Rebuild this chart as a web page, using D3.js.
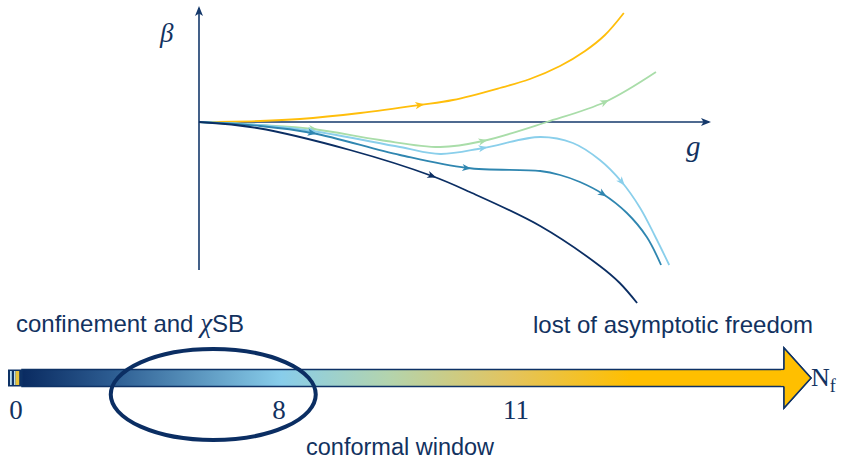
<!DOCTYPE html>
<html><head><meta charset="utf-8">
<script src="https://cdn.jsdelivr.net/npm/d3@7"></script>
<style>
html,body{margin:0;padding:0;background:#fff;}
svg{display:block;}
</style></head>
<body>
<svg id="chart" width="843" height="459"></svg>
<script>
// ---------- data ----------
const seriesNames = ["orange", "green", "lightblue", "steel", "navy"];
const seriesColors = ["#FFBE0B", "#A9DDA9", "#8ACFEB", "#2F86B0", "#0B2E63"];
const orangeG = [0, 1.2, 1.98, 3.16, 4.33, 4.98, 5.90, 6.49, 7.08, 7.57, 7.96, 8.33];
const orangeB = [0, 0.02, 0.06, 0.18, 0.34, 0.44, 0.68, 0.86, 1.12, 1.42, 1.74, 2.18];
const greenG = [0, 1.2, 2.24, 3.55, 4.73, 5.57, 6.82, 7.96, 8.96];
const greenB = [0, -0.06, -0.14, -0.36, -0.50, -0.38, 0, 0.40, 1.00];
const lightG = [0, 1.2, 2.22, 3.94, 4.73, 5.57, 6.69, 7.33, 7.86, 8.29, 8.65, 8.94, 9.22];
const lightB = [0, -0.06, -0.18, -0.50, -0.64, -0.52, -0.30, -0.42, -0.76, -1.20, -1.72, -2.28, -2.86];
const steelG = [0, 1.2, 2.22, 3.94, 5.25, 6.69, 7.08, 7.47, 7.92, 8.39, 8.78, 9.06];
const steelB = [0, -0.08, -0.22, -0.66, -0.92, -0.98, -1.06, -1.20, -1.44, -1.82, -2.30, -2.86];
const navyG = [0, 1.14, 2.96, 4.57, 5.31, 6.69, 7.86, 8.25, 8.59];
const navyB = [0, -0.12, -0.56, -1.08, -1.40, -2.08, -2.88, -3.22, -3.62];
// arrow positions (g values) along each flow line
const orangeArrows = [4.33];
const greenArrows = [2.24, 5.57, 7.96];
const lightArrows = [2.22, 5.57, 8.29];
const steelArrows = [2.22, 5.25, 7.92];
const navyArrows = [4.57];
// N_f axis
const nfTicks = [0, 8, 11];
const nfTickLabels = ["0", "8", "11"];
const conformalWindowCenter = 6.0;
const gradientStops = [
  {o: 0, c: "#0A2B61"}, {o: 0.12, c: "#2D5D92"}, {o: 0.34, c: "#88CDEA"},
  {o: 0.48, c: "#B3D4AE"}, {o: 0.64, c: "#E3C45E"}, {o: 0.8, c: "#FFBF00"}, {o: 1, c: "#FFBF00"}
];
const textColor = "#12325F";

// ---------- scales ----------
const svg = d3.select("#chart");
const x = d3.scaleLinear().domain([0, 10]).range([199, 709]);
const y = d3.scaleLinear().domain([-3, 2.3]).range([272, 7]);
const nf = d3.scaleLinear().domain([0, 8, 11]).range([16, 279, 516]);

const series = [
  {g: orangeG, b: orangeB, a: orangeArrows},
  {g: greenG, b: greenB, a: greenArrows},
  {g: lightG, b: lightB, a: lightArrows},
  {g: steelG, b: steelB, a: steelArrows},
  {g: navyG, b: navyB, a: navyArrows}
].map((s, i) => ({...s, name: seriesNames[i], color: seriesColors[i]}));

// ---------- axes ----------
const axisColor = "#15396B";
const arrowShape = "M-5,-4 L5,0 L-5,4 L-2.5,0 Z";
svg.append("line").attr("x1", x(0)).attr("x2", x(10)).attr("y1", y(0)).attr("y2", y(0))
  .attr("stroke", axisColor).attr("stroke-width", 1.6);
svg.append("line").attr("x1", x(0)).attr("x2", x(0)).attr("y1", y(-2.96)).attr("y2", y(2.28))
  .attr("stroke", axisColor).attr("stroke-width", 1.6);
svg.append("path").attr("d", arrowShape).attr("fill", axisColor)
  .attr("transform", `translate(${x(10) - 3},${y(0)})`);
svg.append("path").attr("d", arrowShape).attr("fill", axisColor)
  .attr("transform", `translate(${x(0)},${y(2.28) + 3}) rotate(-90)`);

svg.append("text").attr("x", 160).attr("y", 42).text("β")
  .attr("font-family", "Liberation Serif").attr("font-style", "italic")
  .attr("font-size", 27).attr("fill", textColor);
svg.append("text").attr("x", 686).attr("y", 156).text("g")
  .attr("font-family", "Liberation Serif").attr("font-style", "italic")
  .attr("font-size", 29).attr("fill", textColor);

// ---------- flow lines ----------
const line = d3.line().x(d => x(d[0])).y(d => y(d[1])).curve(d3.curveCatmullRom.alpha(0.5));
const flowArrow = "M-4.5,-3.6 L4.5,0 L-4.5,3.6 L-2,0 Z";
series.forEach(s => {
  const pts = s.g.map((g, i) => [g, s.b[i]]);
  const p = svg.append("path").attr("d", line(pts)).attr("fill", "none")
    .attr("stroke", s.color).attr("stroke-width", 1.8);
  const node = p.node();
  const L = node.getTotalLength();
  s.a.forEach(ga => {
    const tx = x(ga);
    let lo = 0, hi = L;
    for (let k = 0; k < 40; k++) {
      const mid = (lo + hi) / 2;
      if (node.getPointAtLength(mid).x < tx) lo = mid; else hi = mid;
    }
    const pt = node.getPointAtLength(lo);
    const p2 = node.getPointAtLength(Math.min(L, lo + 2));
    const p1 = node.getPointAtLength(Math.max(0, lo - 2));
    const ang = Math.atan2(p2.y - p1.y, p2.x - p1.x) * 180 / Math.PI;
    svg.append("path").attr("d", flowArrow).attr("fill", s.color)
      .attr("transform", `translate(${pt.x},${pt.y}) rotate(${ang})`);
  });
});

// ---------- annotations ----------
const sans = "Liberation Sans, Arial, sans-serif";
const t1 = svg.append("text").attr("x", 16).attr("y", 332).attr("font-family", sans)
  .attr("font-size", 24).attr("fill", textColor);
t1.append("tspan").text("confinement and ");
t1.append("tspan").text("χ").attr("font-family", "Liberation Serif").attr("font-style", "italic").attr("font-size", 27);
t1.append("tspan").text("SB");
svg.append("text").attr("x", 533).attr("y", 333).attr("font-family", sans)
  .attr("font-size", 24).attr("fill", textColor).text("lost of asymptotic freedom");
svg.append("text").attr("x", 306).attr("y", 455).attr("font-family", sans)
  .attr("font-size", 23.5).attr("fill", textColor).text("conformal window");

// ---------- N_f bar ----------
const defs = svg.append("defs");
const grad = defs.append("linearGradient").attr("id", "nfgrad")
  .attr("gradientUnits", "userSpaceOnUse").attr("x1", 22).attr("x2", 784).attr("y1", 0).attr("y2", 0);
grad.selectAll("stop").data(gradientStops).join("stop")
  .attr("offset", d => d.o).attr("stop-color", d => d.c);

const barTop = 369.5, barBot = 386.5, barL = 22, headX = 784, tipX = 811, headTop = 348, headBot = 408;
const cy = (barTop + barBot) / 2;
svg.append("path")
  .attr("d", `M${barL},${barTop} L${headX},${barTop} L${headX},${headTop} L${tipX},${cy} L${headX},${headBot} L${headX},${barBot} L${barL},${barBot} Z`)
  .attr("fill", "url(#nfgrad)").attr("stroke", "#0E3266").attr("stroke-width", 1.5)
  .attr("stroke-linejoin", "miter");
svg.append("path")
  .attr("d", `M${headX},${barTop} L${headX},${headTop} L${tipX},${cy} L${headX},${headBot} L${headX},${barBot}`)
  .attr("fill", "#FFBF00").attr("stroke", "#0E3266").attr("stroke-width", 1.5);
svg.append("rect").attr("x", headX - 3).attr("y", barTop + 0.8).attr("width", 4).attr("height", barBot - barTop - 1.6)
  .attr("fill", "#FFBF00");
// broken start of the bar
svg.append("rect").attr("x", 8).attr("y", barTop).attr("width", 14).attr("height", barBot - barTop).attr("fill", "#0E3266");
svg.append("rect").attr("x", 10).attr("y", barTop + 1.5).attr("width", 1.8).attr("height", barBot - barTop - 3).attr("fill", "#B9DDEE");
svg.append("rect").attr("x", 14).attr("y", barTop + 1.5).attr("width", 1.6).attr("height", barBot - barTop - 3).attr("fill", "#B9DDEE");
svg.append("rect").attr("x", 15.6).attr("y", barTop + 1.5).attr("width", 3.6).attr("height", barBot - barTop - 3).attr("fill", "#E8C33A");

// tick labels
svg.selectAll("text.nftick").data(nfTicks).join("text").attr("class", "nftick")
  .attr("x", d => nf(d)).attr("y", 419).attr("text-anchor", "middle")
  .attr("font-family", "Liberation Serif").attr("font-size", 27).attr("fill", textColor)
  .text((d, i) => nfTickLabels[i]);
const nft = svg.append("text").attr("x", 811).attr("y", 386).attr("font-family", "Liberation Serif")
  .attr("font-size", 26).attr("fill", textColor);
nft.append("tspan").text("N");
nft.append("tspan").text("f").attr("font-size", 18).attr("dy", 6);

// conformal window ellipse
svg.append("ellipse").attr("cx", nf(conformalWindowCenter)).attr("cy", 394.5)
  .attr("rx", 102.5).attr("ry", 45.5).attr("fill", "none")
  .attr("stroke", "#0B2E63").attr("stroke-width", 4);
</script>
</body></html>
